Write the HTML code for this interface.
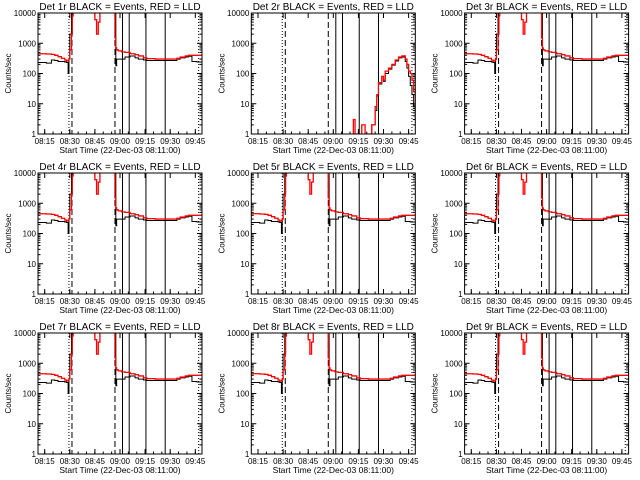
<!DOCTYPE html>
<html><head><meta charset="utf-8"><style>
body{margin:0;background:#fff}
svg{display:block;font-family:"Liberation Sans",sans-serif}
</style></head><body>
<svg id="c" width="640" height="480" viewBox="0 0 640 480" xmlns="http://www.w3.org/2000/svg"></svg>
<script>
// minutes since 08:11:00
const tickLabels = ["08:15","08:30","08:45","09:00","09:15","09:30","09:45"];
const tickMinutes = [4,19,34,49,64,79,94];
const yTicks = [1,10,100,1000,10000];
const yTickLabels = ["1","10","100","1000","10000"];
const dottedLines = [18.5,96];
const dashedLines = [20.3,46];
const solidLines = [50.5,54.5,64.5,76];
// typical detector (1,3-9)
const tA = [0,5,8,10,12,14,16,17,18,18.5,19,20,20.5,21,21.5,33,34,35,36,37,38,45,46,46.5,47,48,50,52,55,58,60,63,65,70,75,80,83,85,88,90,92,95,98];
const redA = [450,440,430,400,360,320,280,260,270,300,600,2000,8000,20000,20000,20000,6000,2000,5000,20000,20000,20000,1500,700,600,560,520,500,450,420,380,330,310,300,300,300,320,350,380,400,400,400,400];
const blackA = [230,220,280,270,250,250,240,230,100,300,2000,20000,20000,20000,20000,20000,20000,20000,20000,20000,20000,20000,20000,180,300,300,300,350,380,330,300,280,270,270,270,270,300,330,350,370,250,240,240];
// detector 2
const tB = [0,60,61,62,63,66,68,70,71,72,74,75,76,78,79,80,82,84,86,88,90,92,93,94,95,96,97,98];
const redB = [0.3,0.3,3,1,0.3,2,1,0.3,1,2,8,20,50,80,60,120,150,200,280,350,380,300,200,120,100,60,25,10];
const blackB = [0.3,0.3,0.3,0.3,0.3,0.3,0.3,0.3,0.5,2,6,18,45,80,55,100,140,190,260,330,350,250,150,80,40,20,8,3];

const NS="http://www.w3.org/2000/svg";
const svg=document.getElementById('c');
function mk(tag,attrs,parent){const e=document.createElementNS(NS,tag);for(const k in attrs)e.setAttribute(k,attrs[k]);(parent||svg).appendChild(e);return e;}

for(let p=0;p<9;p++){
  const col=p%3,row=Math.floor(p/3);
  const ox=col*213.3,oy=row*160;
  const x0=ox+38,x1=ox+202,y0=oy+13,y1=oy+134;
  const xs=t=>x0+t*(x1-x0)/98;
  const ys=v=>y1-(Math.log10(v))*(y1-y0)/4;
  const g=mk('g',{});
  
  
  const cid='clip'+p;
  const cp=mk('clipPath',{id:cid},g);mk('rect',{x:x0,y:y0,width:x1-x0,height:y1-y0},cp);
  const tt=mk('text',{x:(x0+x1)/2,y:oy+10,'text-anchor':'middle','font-size':'10'},g);
  tt.textContent='Det '+(p+1)+'r BLACK = Events, RED = LLD';
  
  
  const yl=mk('text',{x:0,y:0,'text-anchor':'middle','font-size':'8',transform:`translate(${ox+11},${(y0+y1)/2}) rotate(-90)`},g);
  yl.textContent='Counts/sec';
  
  
  const xl=mk('text',{x:(x0+x1)/2,y:oy+153,'text-anchor':'middle','font-size':'8.5'},g);
  xl.textContent='Start Time (22-Dec-03 08:11:00)';
  
  
  yTicks.forEach((v,i)=>{
    const y=ys(v);
    mk('line',{x1:x0,x2:x0+5,y1:y,y2:y,stroke:'#000'},g);
    mk('line',{x1:x1,x2:x1-5,y1:y,y2:y,stroke:'#000'},g);
    const l=mk('text',{x:x0-2,y:y+3,'text-anchor':'end','font-size':'8'},g);
    l.textContent=yTickLabels[i];
    
    
    if(i<4)for(let m=2;m<10;m++){const yy=ys(v*m);
      mk('line',{x1:x0,x2:x0+2.5,y1:yy,y2:yy,stroke:'#000'},g);
      mk('line',{x1:x1,x2:x1-2.5,y1:yy,y2:yy,stroke:'#000'},g);}
  });
  tickMinutes.forEach((t,i)=>{
    const x=xs(t);
    mk('line',{x1:x,x2:x,y1:y1,y2:y1-5,stroke:'#000'},g);
    mk('line',{x1:x,x2:x,y1:y0,y2:y0+5,stroke:'#000'},g);
    const l=mk('text',{x:x,y:oy+144,'text-anchor':'middle','font-size':'8'},g);
    l.textContent=tickLabels[i];
    
    
  });
  for(let t=4;t<98;t+=5){const x=xs(t);mk('line',{x1:x,x2:x,y1:y1,y2:y1-2.5,stroke:'#000'},g);}
  dottedLines.forEach(t=>mk('line',{x1:xs(t),x2:xs(t),y1:y0,y2:y1,stroke:'#000','stroke-dasharray':'1,2'},g));
  dashedLines.forEach(t=>mk('line',{x1:xs(t),x2:xs(t),y1:y0,y2:y1,stroke:'#000','stroke-dasharray':'6,3'},g));
  solidLines.forEach(t=>mk('line',{x1:xs(t),x2:xs(t),y1:y0,y2:y1,stroke:'#000'},g));
  const T=p===1?tB:tA,R=p===1?redB:redA,B=p===1?blackB:blackA;
  const step=(vals)=>{let d='';for(let i=0;i<T.length;i++){const x=xs(T[i]),y=ys(vals[i]);d+=(i?`H${x}V${y}`:`M${x},${y}`);}return d;};
  const bl=mk('path',{d:step(B),fill:'none',stroke:'#000','stroke-width':'1','clip-path':`url(#${cid})`},g);
  
  
  const rl=mk('path',{d:step(R),fill:'none',stroke:'#f00','stroke-width':'1.3','clip-path':`url(#${cid})`},g);
  
  
  const fr=mk('rect',{x:x0,y:y0,width:x1-x0,height:y1-y0,fill:'none',stroke:'#000'},g);
  
  
}
</script>
</body></html>
